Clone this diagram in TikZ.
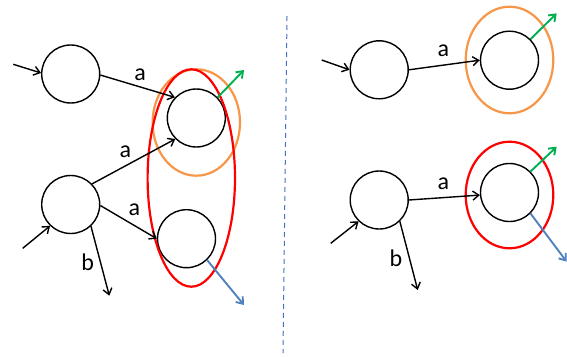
\documentclass[tikz,border=0pt]{standalone}
\usepackage{fontspec}
\setmainfont{Carlito}
\usetikzlibrary{arrows.meta}
\definecolor{nfaorange}{RGB}{247,150,70}
\definecolor{nfared}{RGB}{255,0,0}
\definecolor{nfagreen}{RGB}{0,176,80}
\definecolor{nfablue}{RGB}{79,129,189}
\definecolor{nfadash}{RGB}{68,114,196}
\begin{document}
\begin{tikzpicture}[x=1pt,y=-1pt,
    state/.style={circle,draw,line width=1.4pt,minimum size=58pt,inner sep=0pt},
    trans/.style={line width=1.4pt,-{Straight Barb[length=6pt,width=9pt]}},
    exit/.style={trans,line width=1.9pt},
    lbl/.style={font=\fontsize{24}{28}\selectfont,inner sep=0pt},
    group/.style={line width=2.2pt}]
  \useasboundingbox (0,0) rectangle (567,356);
  % left: before merging
  \node[state] (qa) at (70.7,74) {};
  \node[state] (qb) at (196.3,118) {};
  \node[state] (qc) at (70.7,204.5) {};
  \node[state] (qd) at (186.5,238.7) {};
  \draw[group,nfaorange] (196.3,122.5) ellipse (43.7 and 53.2);
  \draw[group,nfared] (191.3,178) ellipse (43.7 and 108.7);
  \coordinate (ina) at (13.3,64.3);
  \coordinate (inc) at (22.7,248.3);
  \coordinate (outc) at (109.3,295.7);
  \coordinate (finb) at (244,70);
  \coordinate (find) at (244,305);
  \draw[trans] (ina) -- (qa.178);
  \draw[trans] (inc) -- (qc.226);
  \draw[trans] (qa.-2) -- (qb.136);
  \draw[trans] (qc.44) -- (qb.225);
  \draw[trans] (qc.-2) -- (qd.180);
  \draw[trans] (qc.-47) -- (outc);
  \draw[exit,nfagreen] (qb.44) -- (finb);
  \draw[exit,nfablue] (qd.-46) -- (find);
  \node[lbl] (la1) at (140,75) {a};
  \node[lbl] (la2) at (125.3,151.7) {a};
  \node[lbl] (la3) at (134.3,210) {a};
  \node[lbl] (lb1) at (87.7,262.3) {b};
  % separator
  \draw[nfadash,line width=1pt,dash pattern=on 5pt off 4pt] (287,16) -- (283,353);
  % right: after merging
  \node[state] (qe) at (379.2,69.8) {};
  \node[state] (qf) at (509.5,60.2) {};
  \node[state] (qg) at (379.2,200) {};
  \node[state] (qh) at (509.5,192.5) {};
  \draw[group,nfaorange] (509.5,60) ellipse (43.8 and 53.3);
  \draw[group,nfared] (509.5,195) ellipse (43.8 and 53.3);
  \coordinate (ine) at (321.7,60);
  \coordinate (ing) at (330.7,243.3);
  \coordinate (outg) at (417.7,290);
  \coordinate (finf) at (556.7,13.3);
  \coordinate (finh) at (556.7,146.7);
  \coordinate (outh) at (566.7,261.7);
  \draw[trans] (ine) -- (qe.180);
  \draw[trans] (ing) -- (qg.226);
  \draw[trans] (qe.0) -- (qf.180);
  \draw[trans] (qg.0) -- (qh.185);
  \draw[trans] (qg.-46) -- (outg);
  \draw[exit,nfagreen] (qf.45) -- (finf);
  \draw[exit,nfagreen] (qh.45) -- (finh);
  \draw[exit,nfablue] (qh.-45) -- (outh);
  \node[lbl] (la4) at (443.3,50.7) {a};
  \node[lbl] (la5) at (443.3,183.3) {a};
  \node[lbl] (lb2) at (396,258.3) {b};
\end{tikzpicture}
\end{document}
